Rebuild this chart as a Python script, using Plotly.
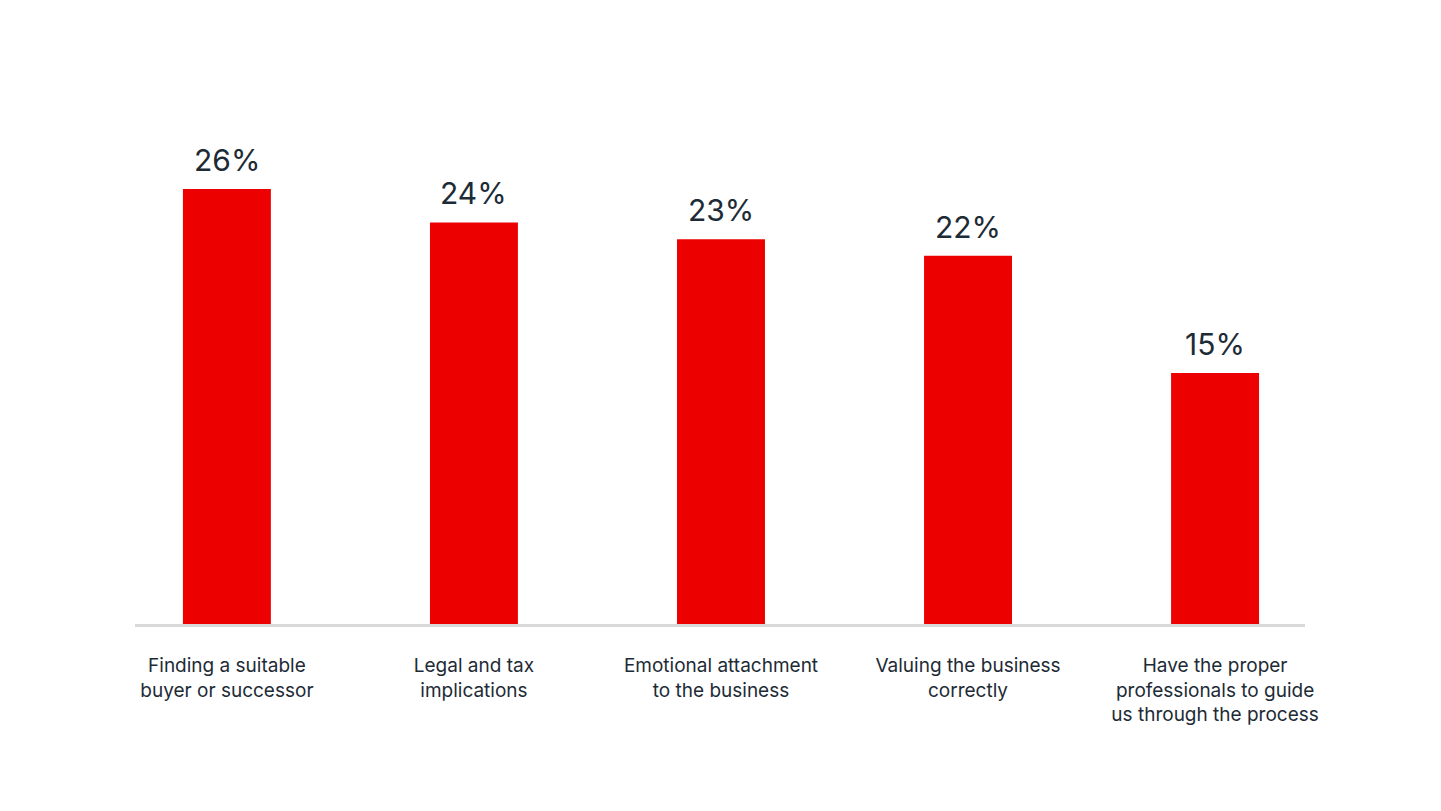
import plotly.graph_objects as go

categories = [
    "Finding a suitable<br>buyer or successor",
    "Legal and tax<br>implications",
    "Emotional attachment<br>to the business",
    "Valuing the business<br>correctly",
    "Have the proper<br>professionals to guide<br>us through the process",
]
values = [26, 24, 23, 22, 15]
value_labels = ["26%", "24%", "23%", "22%", "15%"]

text_color = "#1d2b36"
bar_color = "#ec0000"

fig = go.Figure()

fig.add_trace(go.Bar(x=categories,
                     y=values,
                     width=0.356,
                     marker=dict(color=bar_color, line=dict(width=0)),
                     hoverinfo="skip"))

# percentage labels sit a bit above each bar
for cat, val, lab in zip(categories, values, value_labels):
    fig.add_annotation(x=cat, y=val, text=lab,
                       showarrow=False, yanchor="bottom", yshift=9,
                       font=dict(size=30, color=text_color))

# page body has an 8px margin, so the figure is a bit smaller than the window
fig.update_layout(
    width=1433,
    height=803,
    margin=dict(l=127, r=136, t=114, b=187),
    plot_bgcolor="white",
    paper_bgcolor="white",
    showlegend=False,
    font=dict(family="Inter", size=19, color=text_color),
    xaxis=dict(
        type="category",
        range=[-0.372, 4.364],
        showline=True,
        linecolor="#d9d9d9",
        linewidth=3,
        showgrid=False,
        zeroline=False,
        ticks="",
        ticklabelstandoff=22,
        tickfont=dict(size=19, color=text_color),
        fixedrange=True,
    ),
    yaxis=dict(
        range=[0, 30],
        visible=False,
        fixedrange=True,
    ),
)

fig.write_html("out.html")
